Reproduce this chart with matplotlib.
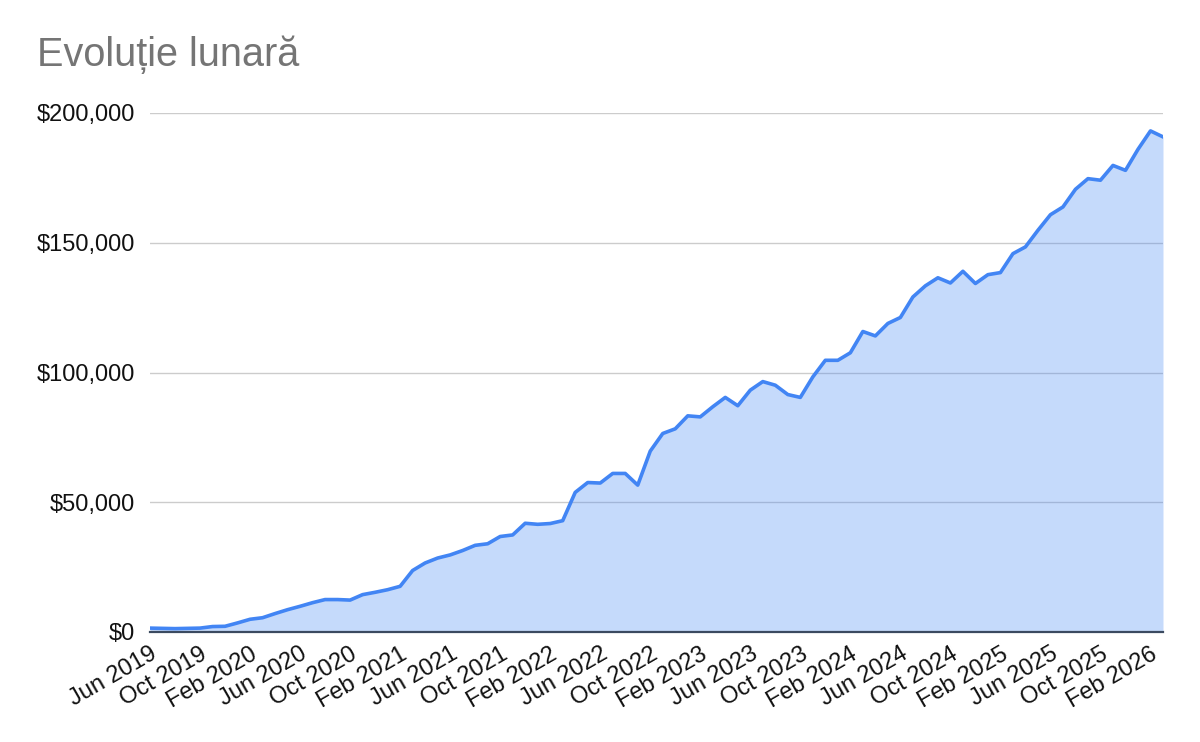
import numpy as np
import pandas as pd
from matplotlib import pyplot as plt
from matplotlib import ticker
from matplotlib import transforms as mtransforms

plt.rcParams['font.family'] = ['Liberation Sans', 'DejaVu Sans']

# monthly values, Jun 2019 .. Mar 2026
months = pd.date_range("2019-06-01", periods=82, freq="MS").strftime("%b %Y").tolist()
values = [1500, 1400, 1300, 1400, 1500, 2100, 2200, 3500, 4900, 5500,
          7100, 8600, 9900, 11300, 12500, 12500, 12300, 14400, 15300, 16300,
          17600, 23700, 26600, 28500, 29700, 31400, 33400, 34000, 36800, 37400,
          41900, 41500, 41800, 42900, 53800, 57600, 57400, 61100, 61100, 56600,
          69700, 76500, 78300, 83300, 82900, 86800, 90400, 87200, 93200, 96500,
          95100, 91500, 90400, 98300, 104700, 104700, 107600, 115800, 114100, 118900,
          121200, 129100, 133400, 136500, 134500, 139000, 134300, 137700, 138500, 145800,
          148400, 154800, 160800, 163800, 170600, 174700, 174100, 179800, 177900, 186000,
          193100, 190800]
yticks = [0, 50000, 100000, 150000, 200000]

x = np.arange(len(months))

fig = plt.figure(figsize=(12, 7.42), dpi=100)
ax = fig.add_axes([150/1200, 1-632/742, 1013/1200, (632-113)/742])

ax.fill_between(x, values, 0, color='#4285F4', alpha=0.3, linewidth=0, zorder=2)
ax.plot(x, values, color='#4285F4', linewidth=2.6, zorder=3, solid_joinstyle='round')

ax.set_xlim(0, len(months) - 1)
ax.set_ylim(0, 200000)
ax.set_yticks(yticks)
ax.yaxis.set_major_formatter(ticker.StrMethodFormatter('${x:,.0f}'))
ax.grid(axis='y', color='#cccccc', linewidth=1.0, zorder=1)
ax.set_axisbelow(True)

tick_pos = x[::4][:21]
ax.set_xticks(tick_pos)
ax.set_xticklabels([months[i] for i in tick_pos], rotation=30, ha='right',
                   va='top', rotation_mode='anchor')
offset = mtransforms.ScaledTranslation(11/100, 0, fig.dpi_scale_trans)
for lbl in ax.get_xticklabels():
    lbl.set_transform(lbl.get_transform() + offset)

ax.tick_params(axis='x', length=0, pad=8, labelsize=17, labelcolor='#111111')
ax.tick_params(axis='y', length=0, pad=11, labelsize=17, labelcolor='#111111')

for s in ['top', 'right', 'left']:
    ax.spines[s].set_visible(False)
ax.spines['bottom'].set_color('#3b4a60')
ax.spines['bottom'].set_linewidth(1.6)
ax.spines['bottom'].set_zorder(4)

fig.text(37/1200, 1-55/742, "Evoluție lunară", fontsize=28.5, color='#757575',
         va='center', ha='left')

fig.savefig("out.png", dpi=100)
